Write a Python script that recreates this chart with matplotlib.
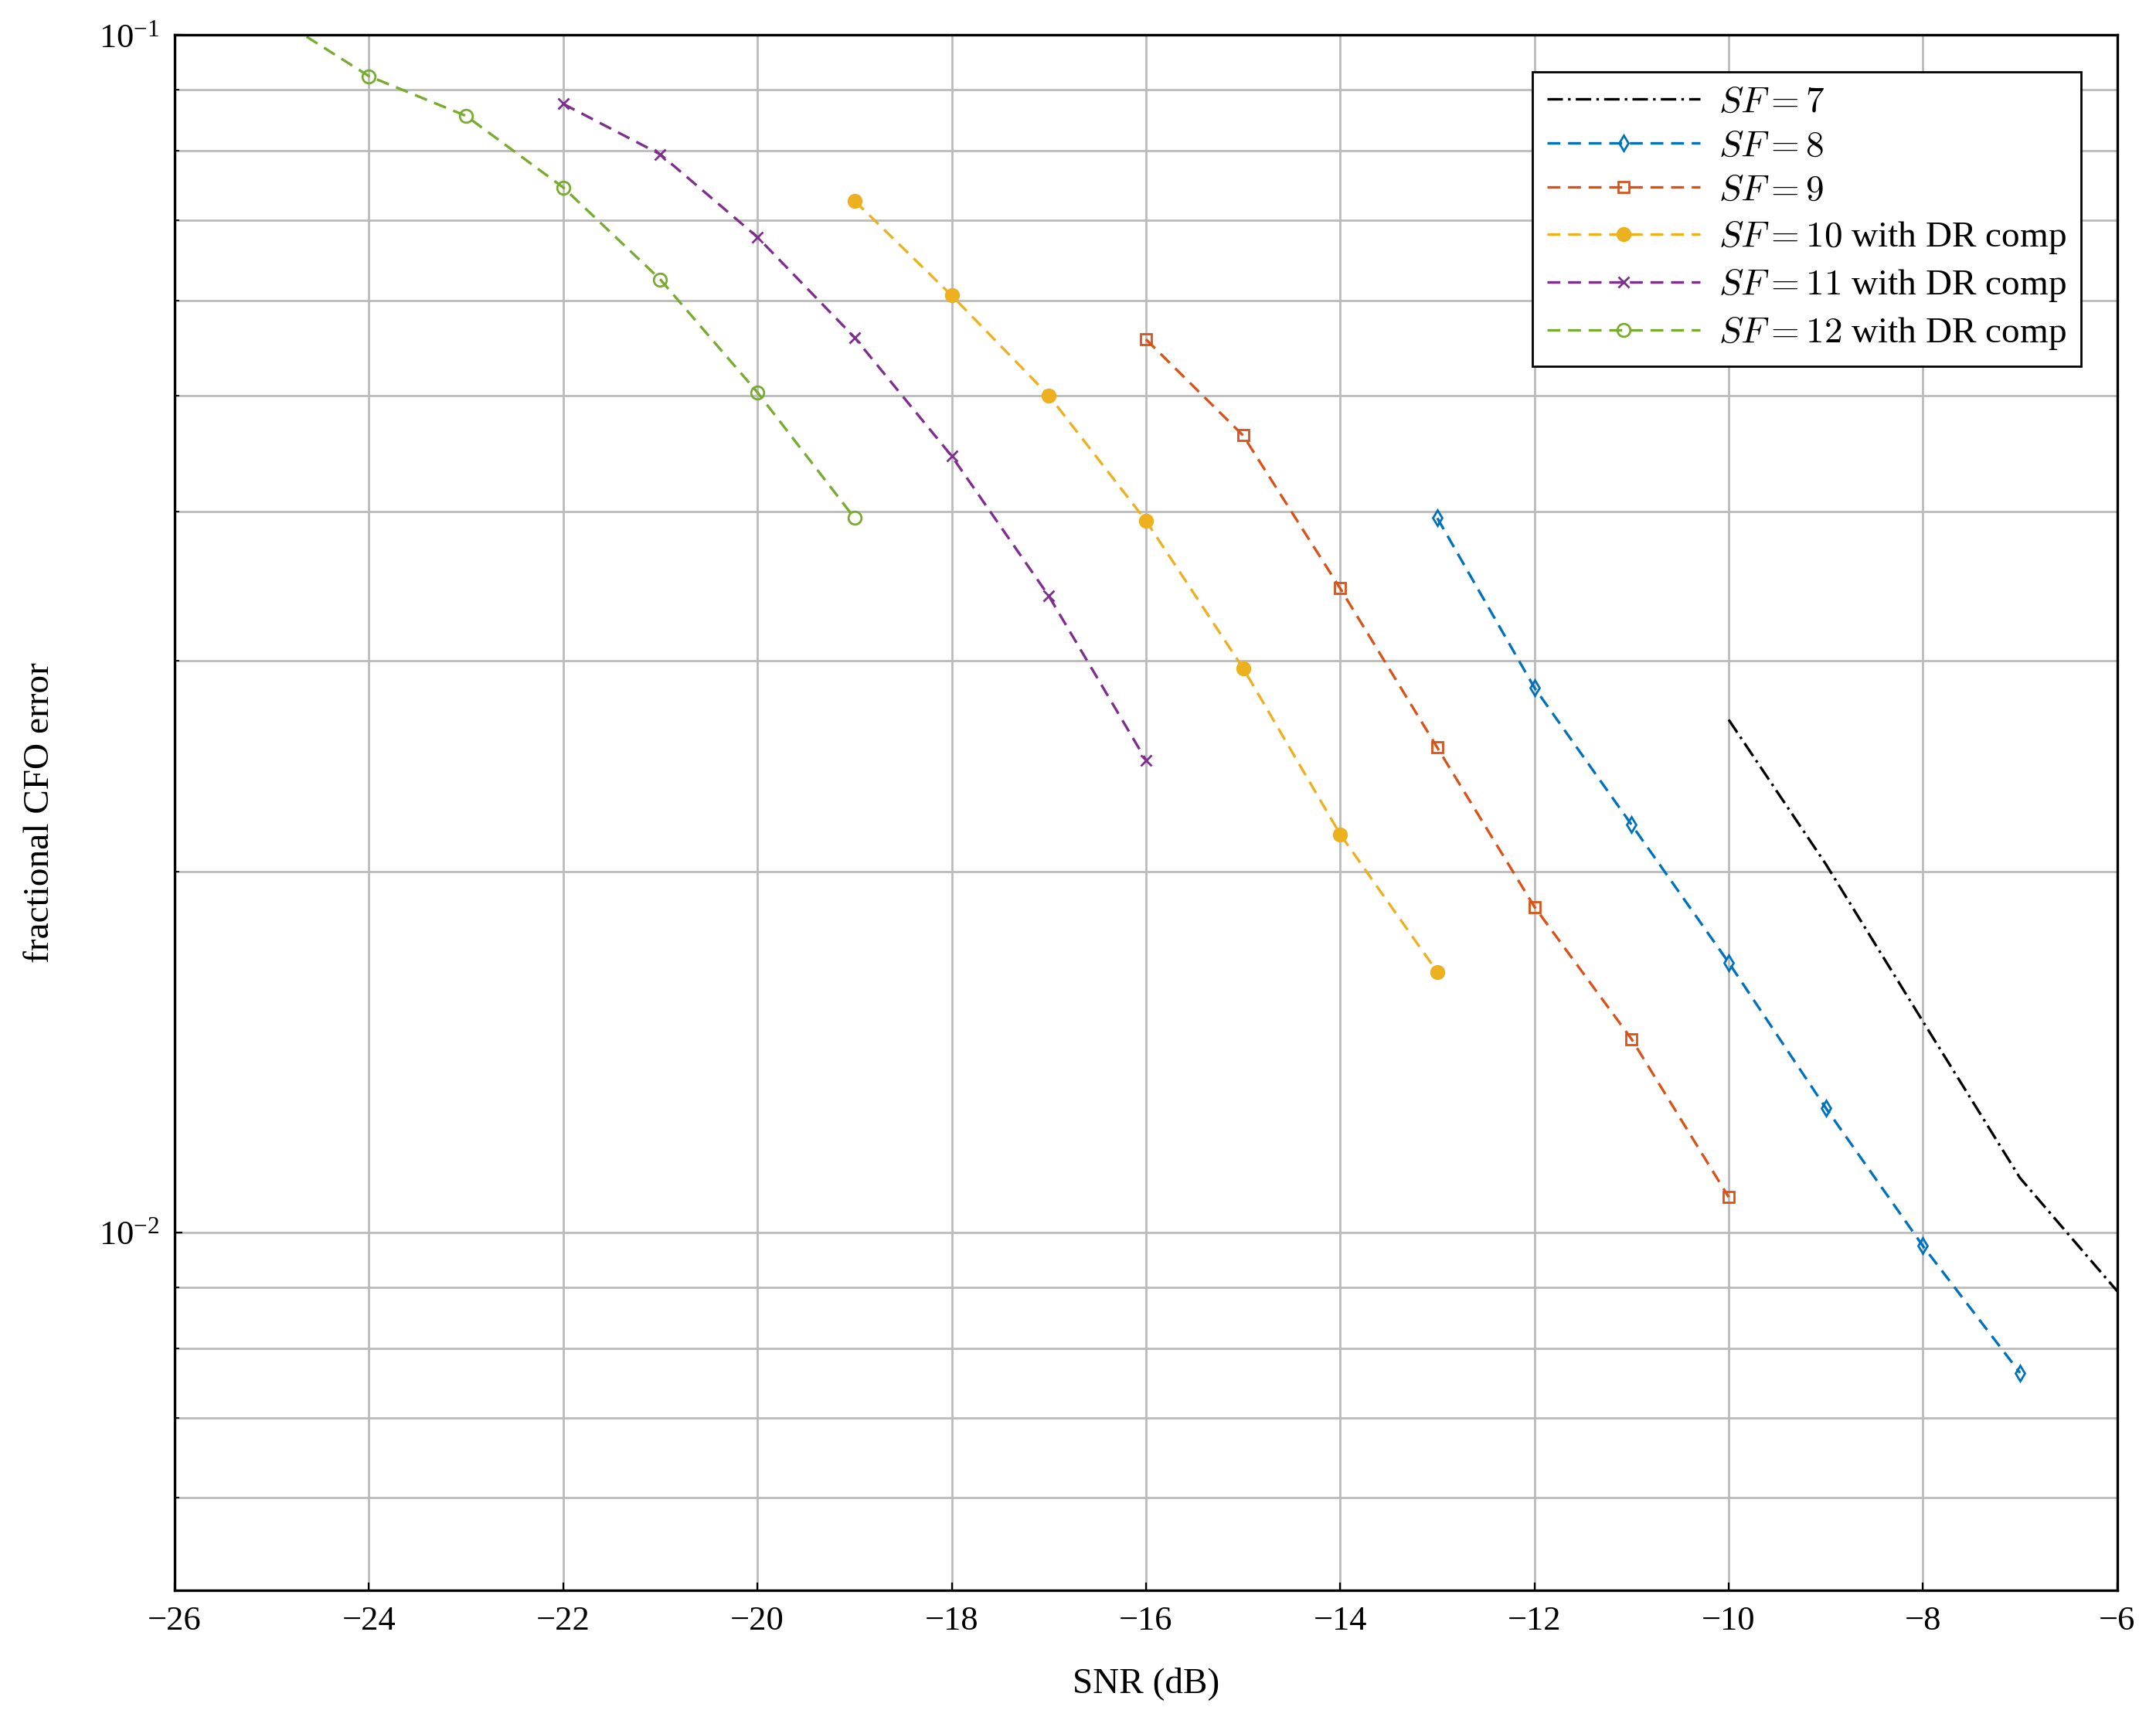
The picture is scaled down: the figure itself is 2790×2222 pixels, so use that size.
import matplotlib
matplotlib.use("Agg")
import matplotlib.pyplot as plt

plt.rcParams["font.family"] = ["Liberation Serif", "DejaVu Serif"]
plt.rcParams["mathtext.fontset"] = "cm"
plt.rcParams["axes.unicode_minus"] = True

snr7 = [-10, -9, -8, -7, -6]
cfo7 = [0.0268, 0.0203, 0.0150, 0.0111, 0.00893]
snr8 = [-13, -12, -11, -10, -9, -8, -7]
cfo8 = [0.0395, 0.0285, 0.0219, 0.0168, 0.0127, 0.00974, 0.00763]
snr9 = [-16, -15, -14, -13, -12, -11, -10]
cfo9 = [0.0557, 0.0463, 0.0345, 0.0254, 0.0187, 0.0145, 0.0107]
snr10 = [-19, -18, -17, -16, -15, -14, -13]
cfo10 = [0.0727, 0.0606, 0.0500, 0.0393, 0.0296, 0.0215, 0.0165]
snr11 = [-22, -21, -20, -19, -18, -17, -16]
cfo11 = [0.0876, 0.0795, 0.0678, 0.0559, 0.0445, 0.0340, 0.0248]
snr12 = [-25, -24, -23, -22, -21, -20, -19]
cfo12 = [0.104, 0.0924, 0.0856, 0.0746, 0.0625, 0.0503, 0.0395]

fig = plt.figure(figsize=(13.95, 11.11), dpi=200)
ax = fig.add_axes([0.081, 0.0736, 0.901, 0.906])

dash = (0, (5, 3))
ax.plot(snr7, cfo7, color="black", linestyle=(0, (6, 2, 1, 2)), lw=1.2, label=r"$SF = 7$")
ax.plot(snr8, cfo8, color="#0072BD", linestyle=dash, lw=1.2, marker="d", ms=5, mfc="none", label=r"$SF = 8$")
ax.plot(snr9, cfo9, color="#D95319", linestyle=dash, lw=1.2, marker="s", ms=5, mfc="none", label=r"$SF = 9$")
ax.plot(snr10, cfo10, color="#EDB120", linestyle=dash, lw=1.2, marker="o", ms=6, label=r"$SF = 10$ with DR comp")
ax.plot(snr11, cfo11, color="#7E2F8E", linestyle=dash, lw=1.2, marker="x", ms=5, label=r"$SF = 11$ with DR comp")
ax.plot(snr12, cfo12, color="#77AC30", linestyle=dash, lw=1.2, marker="o", ms=6, mfc="none", label=r"$SF = 12$ with DR comp")

ax.set_yscale("log")
ax.set_xlim(-26, -6)
ax.set_ylim(0.00502, 0.1)
ax.set_xticks(range(-26, -5, 2))
ax.grid(True, which="major", color="#bbbbbb", lw=1)
ax.grid(True, which="minor", axis="y", color="#bbbbbb", lw=1)
ax.tick_params(which="both", direction="in", labelsize=16, pad=7)
ax.set_xlabel("SNR (dB)", fontsize=17, labelpad=14)
ax.set_ylabel("fractional CFO error", fontsize=17, labelpad=20)
for s in ax.spines.values():
    s.set_linewidth(1.2)

leg = ax.legend(loc="upper right", fontsize=17, fancybox=False, edgecolor="black",
                framealpha=1, handlelength=4.2, handletextpad=0.5, labelspacing=0.3,
                borderaxespad=1.0)
leg.get_frame().set_linewidth(1.0)

fig.savefig("out.png", dpi=200)
